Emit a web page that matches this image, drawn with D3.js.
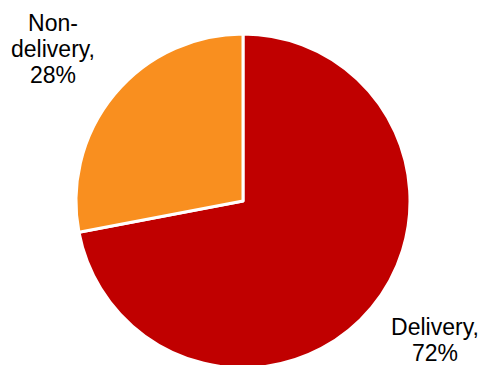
<!DOCTYPE html>
<html>
<head>
<meta charset="utf-8">
<script src="https://cdn.jsdelivr.net/npm/d3@7"></script>
<style>
  html, body { margin: 0; padding: 0; background: #fff; }
  svg { display: block; }
</style>
</head>
<body>
<script>
// Share of cases by type
const categories = ["Delivery", "Non-delivery"];
const shares = [72, 28];
const colors = ["#C00000", "#F98F1F"];
const labelLines = [["Delivery,", "72%"], ["Non-", "delivery,", "28%"]];

const width = 482, height = 365;
const cx = 243, cy = 201, radius = 167;

const svg = d3.select("body").append("svg")
  .attr("width", width)
  .attr("height", height);

const pie = d3.pie().sort(null).value(d => d.value);
const arc = d3.arc().innerRadius(0).outerRadius(radius);

const data = categories.map((c, i) => ({ name: c, value: shares[i], color: colors[i], lines: labelLines[i] }));

const g = svg.append("g").attr("transform", `translate(${cx},${cy})`);

g.selectAll("path")
  .data(pie(data))
  .join("path")
  .attr("d", arc)
  .attr("fill", d => d.data.color)
  .attr("stroke", "#fff")
  .attr("stroke-width", 3)
  .attr("stroke-linejoin", "round");

// Outside labels, placed by anchor positions
const labelPos = { "Delivery": [435, 335], "Non-delivery": [53, 31] };
const lineH = 26;

data.forEach(d => {
  const [x, y] = labelPos[d.name];
  const t = svg.append("text")
    .attr("x", x)
    .attr("y", y)
    .attr("text-anchor", "middle")
    .attr("font-family", "Liberation Sans, Arial, sans-serif")
    .attr("font-size", 23)
    .attr("fill", "#000");
  d.lines.forEach((l, i) => {
    t.append("tspan").attr("x", x).attr("y", y + i * lineH).text(l);
  });
});
</script>
</body>
</html>
